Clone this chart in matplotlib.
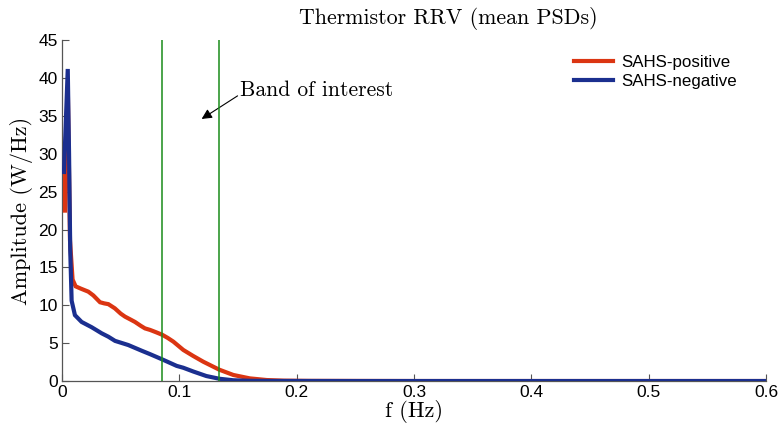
import matplotlib
matplotlib.use("Agg")
import matplotlib.pyplot as plt
import numpy as np

# Mean PSD curves (frequency in Hz, amplitude in W/Hz)
f_pos = [0.0025, 0.0027, 0.0040, 0.0050, 0.0068, 0.0090, 0.0116, 0.0160, 0.0224, 0.0267,
         0.0324, 0.0360, 0.0395, 0.0450, 0.0500, 0.0537, 0.0580, 0.0622, 0.0670, 0.0707,
         0.0750, 0.0800, 0.0855, 0.0900, 0.0949, 0.1034, 0.1119, 0.1204, 0.1340, 0.1460,
         0.1600, 0.1745, 0.1890, 0.2100, 0.2500, 0.3000, 0.4000, 0.5000, 0.6000]
a_pos = [22.5, 28.8, 35.0, 38.0, 18.6, 13.4, 12.5, 12.2, 11.8, 11.3,
         10.4, 10.25, 10.15, 9.6, 8.9, 8.5, 8.15, 7.8, 7.3, 6.95,
         6.75, 6.45, 6.1, 5.7, 5.2, 4.1, 3.3, 2.55, 1.5, 0.8,
         0.35, 0.13, 0.05, 0.02, 0.01, 0.0, 0.0, 0.0, 0.0]

f_neg = [0.0017, 0.0049, 0.0060, 0.0070, 0.0082, 0.0110, 0.0167, 0.0253, 0.0338, 0.0395,
         0.0452, 0.0565, 0.0679, 0.0750, 0.0855, 0.0977, 0.1034, 0.1120, 0.1230, 0.1340,
         0.1460, 0.1600, 0.1800, 0.2500, 0.3000, 0.4000, 0.5000, 0.6000]
a_neg = [27.6, 41.2, 30.0, 17.3, 10.6, 8.7, 7.8, 7.1, 6.3, 5.85,
         5.3, 4.75, 4.0, 3.55, 2.85, 2.0, 1.75, 1.25, 0.66, 0.3,
         0.1, 0.03, 0.01, 0.0, 0.0, 0.0, 0.0, 0.0]

band = [0.085, 0.134]
xticks = [0, 0.1, 0.2, 0.3, 0.4, 0.5, 0.6]
yticks = [0, 5, 10, 15, 20, 25, 30, 35, 40, 45]

red = "#DB3512"
blue = "#1B2F8F"
green = "#1A8C1A"
serif = "cmr10"
sans = "Liberation Sans"

fig = plt.figure(figsize=(7.82, 4.32), dpi=100)
ax = fig.add_axes([0.0793, 0.118, 0.9002, 0.789])

ax.plot(f_pos, a_pos, color=red, lw=3.0, solid_joinstyle="miter", label="SAHS-positive", zorder=3)
ax.plot(f_neg, a_neg, color=blue, lw=3.0, solid_joinstyle="miter", label="SAHS-negative", zorder=4)
for b in band:
    ax.axvline(b, color=green, lw=1.1, zorder=5)

ax.annotate("Band of interest", xy=(0.119, 34.6), xytext=(0.152, 38.4),
            fontsize=15.5, family=serif, va="center", ha="left",
            arrowprops=dict(arrowstyle="-|>", color="black", lw=0.8,
                            mutation_scale=15, shrinkA=0, shrinkB=0,
                            relpos=(0.0, 0.3)))

ax.set_xlim(0, 0.6)
ax.set_ylim(0, 45)
ax.set_xticks(xticks)
ax.set_xticklabels(["0", "0.1", "0.2", "0.3", "0.4", "0.5", "0.6"])
ax.set_yticks(yticks)
ax.tick_params(direction="in", length=5, width=0.8, color="#555555", labelsize=12.5, pad=3)
for lab in ax.get_xticklabels() + ax.get_yticklabels():
    lab.set_family(sans)
for side in ("top", "right"):
    ax.spines[side].set_visible(False)
for side in ("left", "bottom"):
    ax.spines[side].set_color("#555555")
    ax.spines[side].set_linewidth(0.9)

ax.set_xlabel("f (Hz)", family=serif, fontsize=16, labelpad=0)
ax.set_ylabel("Amplitude (W/Hz)", family=serif, fontsize=16, labelpad=4)
fig.text(0.573, 0.957, "Thermistor RRV (mean PSDs)", family=serif, fontsize=15.8,
         ha="center", va="center")

leg = ax.legend(loc="upper right", bbox_to_anchor=(0.98, 1.0), frameon=False,
                prop={"family": sans, "size": 12.2}, handlelength=2.3,
                handletextpad=0.45, labelspacing=0.2)

fig.savefig("out.png", dpi=100, facecolor="white")
